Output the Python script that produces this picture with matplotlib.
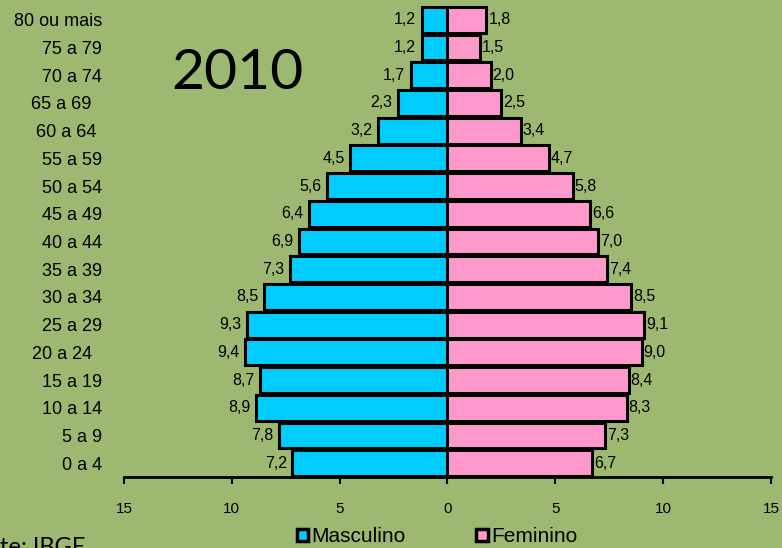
import matplotlib
matplotlib.use("Agg")
import matplotlib.pyplot as plt
from matplotlib.patches import Patch

# Pirâmide etária 2010 (IBGE), em % da população
faixas = ["0 a 4", "5 a 9", "10 a 14", "15 a 19", "20 a 24  ", "25 a 29", "30 a 34",
          "35 a 39", "40 a 44", "45 a 49", "50 a 54", "55 a 59", "60 a 64 ",
          "65 a 69  ", "70 a 74", "75 a 79", "80 ou mais"]
masculino = [7.2, 7.8, 8.9, 8.7, 9.4, 9.3, 8.5, 7.3, 6.9, 6.4, 5.6, 4.5, 3.2, 2.3, 1.7, 1.2, 1.2]
feminino = [6.7, 7.3, 8.3, 8.4, 9.0, 9.1, 8.5, 7.4, 7.0, 6.6, 5.8, 4.7, 3.4, 2.5, 2.0, 1.5, 1.8]
xticks = [-15, -10, -5, 0, 5, 10, 15]

fundo = "#9cb871"
azul = "#00ccff"
rosa = "#ff99cc"

plt.rcParams["font.family"] = ["Liberation Sans", "DejaVu Sans"]

fig = plt.figure(figsize=(7.82, 5.48), dpi=100, facecolor=fundo)
ax = fig.add_axes([124 / 782, 1 - 477 / 548, 647 / 782, 471 / 548])
ax.set_facecolor(fundo)

y = list(range(len(faixas)))
ax.barh(y, [-v for v in masculino], height=0.93, color=azul, edgecolor="black", linewidth=2.2)
ax.barh(y, feminino, height=0.93, color=rosa, edgecolor="black", linewidth=2.2)

# rótulos de valores
for i, (m, f) in enumerate(zip(masculino, feminino)):
    ax.annotate(f"{m:.1f}".replace(".", ","), (-m, i), xytext=(-4, 0), textcoords="offset points",
                ha="right", va="center", fontsize=11.5)
    ax.annotate(f"{f:.1f}".replace(".", ","), (f, i), xytext=(1.5, 0), textcoords="offset points",
                ha="left", va="center", fontsize=11.5)

ax.set_xlim(-15, 15)
ax.set_ylim(-0.5, len(faixas) - 0.5)
ax.set_xticks(xticks)
ax.set_xticklabels([str(abs(t)) for t in xticks], fontsize=11)
ax.set_yticks(y)
ax.set_yticklabels(faixas, fontsize=13)
ax.tick_params(axis="y", length=0, pad=16)
ax.tick_params(axis="x", direction="out", length=5, width=1.5, pad=13)
for s in ["top", "right", "left"]:
    ax.spines[s].set_visible(False)
ax.spines["bottom"].set_linewidth(2)

fig.text(171 / 782, 1 - 89 / 548, "2010", fontsize=41, family="Lato", va="baseline", ha="left")
fig.text(-40 / 782, 1 - 554 / 548, "Fonte: IBGE", fontsize=17, family="Lato", va="baseline", ha="left")

handles = [Patch(facecolor=azul, edgecolor="black", linewidth=2.5, label="Masculino"),
           Patch(facecolor=rosa, edgecolor="black", linewidth=2.5, label="Feminino")]
fig.legend(handles=handles, ncol=2, loc="center", bbox_to_anchor=(437 / 782, 1 - 537 / 548),
           frameon=False, fontsize=15, handlelength=0.55, handleheight=0.55,
           handletextpad=0.15, columnspacing=3.4, borderpad=0)

fig.savefig("out.png", dpi=100, facecolor=fundo)
